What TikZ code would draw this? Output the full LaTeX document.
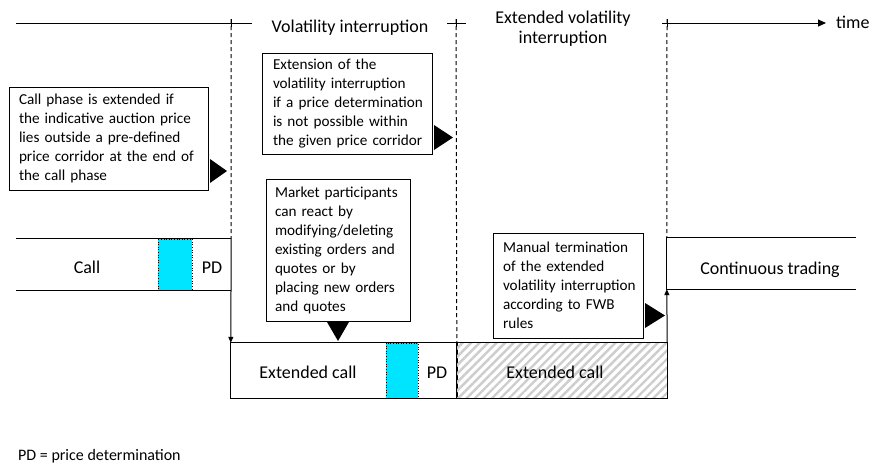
\documentclass[tikz,border=0pt]{standalone}
\usepackage{fontspec}
\setmainfont{Carlito}
\usetikzlibrary{arrows.meta,patterns.meta}
\definecolor{pdcyan}{RGB}{0,229,255}
\definecolor{hatchgray}{RGB}{205,205,205}
\tikzset{
  ln/.style={line width=1pt, draw=black},
  dsh/.style={line width=1pt, dash pattern=on 4pt off 3pt},
  tl/.style={line width=1pt},
  tarrow/.style={-{Triangle[length=8pt,width=7pt]}},
  varrow/.style={-{Triangle[length=6pt,width=5pt]}},
  title/.style={font=\fontsize{18}{21}\selectfont, inner sep=0pt, align=center},
  lbl/.style={font=\fontsize{18}{21}\selectfont, inner sep=0pt, anchor=base},
  blk/.style={draw=none, inner sep=0pt},
  pdbox/.style={fill=pdcyan, draw=black, line width=0.6pt, dotted},
  callout/.style={draw, line width=1pt, fill=white, font=\fontsize{15.2}{19}\selectfont,
    align=left, inner xsep=10pt, inner ysep=0pt},
  ptr/.style={fill=black, draw=none},
}
\begin{document}
\begin{tikzpicture}[x=1pt,y=-1pt]
\useasboundingbox (0,0) rectangle (872,466);

% ---- time line ----
\coordinate (t0) at (16,23);
\coordinate (t1) at (252,23);
\coordinate (t2) at (447,23);
\coordinate (t3) at (466,23);
\coordinate (t4) at (662,23);
\coordinate (t5) at (826,23);
\draw[tl] (t0) -- (t1);
\draw[tl] (t2) -- (t3);
\draw[tl,tarrow] (t4) -- (t5);
\node[title, anchor=base] (vi) at (350,32) {Volatility interruption};
\node[title, anchor=base] (evi1) at (563,23) {Extended volatility};
\node[title, anchor=base] (evi2) at (563,43) {interruption};
\node[title, anchor=base west] (time) at (836,28) {time};

% ticks
\coordinate (k1) at (231,23);
\coordinate (k2) at (456,23);
\coordinate (k3) at (667,23);
\foreach \k in {k1,k2,k3} \draw[tl] ([yshift=-4pt]\k) -- ([yshift=4pt]\k);

% ---- blocks ----
\node[blk, minimum width=215pt, minimum height=51pt] (call) at (123.5,264.5) {};
\node[blk, minimum width=226pt, minimum height=55pt] (ext) at (344,370.5) {};
\node[blk, minimum width=210pt, minimum height=55pt] (hatch) at (562,370.5) {};
\node[blk, minimum width=189pt, minimum height=51pt] (cont) at (761.5,263.5) {};

% dashed phase boundaries
\draw[dsh] ([yshift=4pt]k1) -- (call.north east);
\draw[dsh] ([yshift=4pt]k2) -- (hatch.north west);
\draw[dsh] ([yshift=4pt]k3) -- (cont.north west);

% call block
\draw[pdbox] (158,239) rectangle (192,290);
\draw[ln] (call.north west) -- (call.north east);
\draw[ln] (call.south west) -- (call.south east);
\node[lbl] (calltxt) at (87,273) {Call};
\node[lbl] (pd1) at (212,273) {PD};

% extended call block
\draw[ln] (ext.north west) rectangle (ext.south east);
\draw[pdbox] (386,343) rectangle (418,398);
\node[lbl] (exttxt) at (308,378) {Extended call};
\node[lbl] (pd2) at (437,378) {PD};

% hatched extended call
\fill[pattern={Lines[angle=45,distance=6pt,line width=2.4pt]}, pattern color=hatchgray]
  (hatch.north west) rectangle (hatch.south east);
\draw[ln] (hatch.north west) rectangle (hatch.south east);
\node[lbl] (hatchtxt) at (555,378) {Extended call};

% continuous trading
\draw[ln] (cont.north east) -- (cont.north west) -- (cont.south west) -- (cont.south east);
\node[lbl] (conttxt) at (770,274) {Continuous trading};

% transitions
\draw[ln,varrow] (call.north east) -- (ext.north west);
\draw[ln,varrow] (hatch.north east) -- (cont.south west);

% ---- callouts ----
\node[callout, text width=179pt, minimum width=199pt, minimum height=103pt] (c1) at (108.5,138.5)
  {\mbox{Call phase is extended if}\\\mbox{the indicative auction price}\\\mbox{lies outside a pre-defined}\\\mbox{price corridor at the end of}\\\mbox{the call phase}};
\fill[ptr] (210,159) -- (227,171) -- (210,183) -- cycle;

\node[callout, inner xsep=11pt, text width=148pt, minimum width=170pt, minimum height=101pt] (c2) at (347,103.5)
  {\mbox{Extension of the}\\\mbox{volatility interruption}\\\mbox{if a price determination}\\\mbox{is not possible within}\\\mbox{the given price corridor}};
\fill[ptr] (434,125) -- (453,137.5) -- (434,150) -- cycle;

\node[callout, inner xsep=9pt, text width=126pt, minimum width=144pt, minimum height=142pt] (c3) at (338,250)
  {\mbox{Market participants}\\\mbox{can react by}\\\mbox{modifying/deleting}\\\mbox{existing orders and}\\\mbox{quotes or by}\\\mbox{placing new orders}\\\mbox{and quotes}};
\fill[ptr] (327,322) -- (349,322) -- (338,341) -- cycle;

\node[callout, text width=130pt, minimum width=150pt, minimum height=105pt] (c4) at (568,285.5)
  {\mbox{Manual termination}\\\mbox{of the extended}\\\mbox{volatility interruption}\\\mbox{according to FWB}\\\mbox{rules}};
\fill[ptr] (645,303) -- (665,315.5) -- (645,328) -- cycle;

% legend
\node[anchor=base west, inner sep=0pt, font=\fontsize{16}{19}\selectfont] (legend) at (18,460) {PD = price determination};
\end{tikzpicture}
\end{document}
